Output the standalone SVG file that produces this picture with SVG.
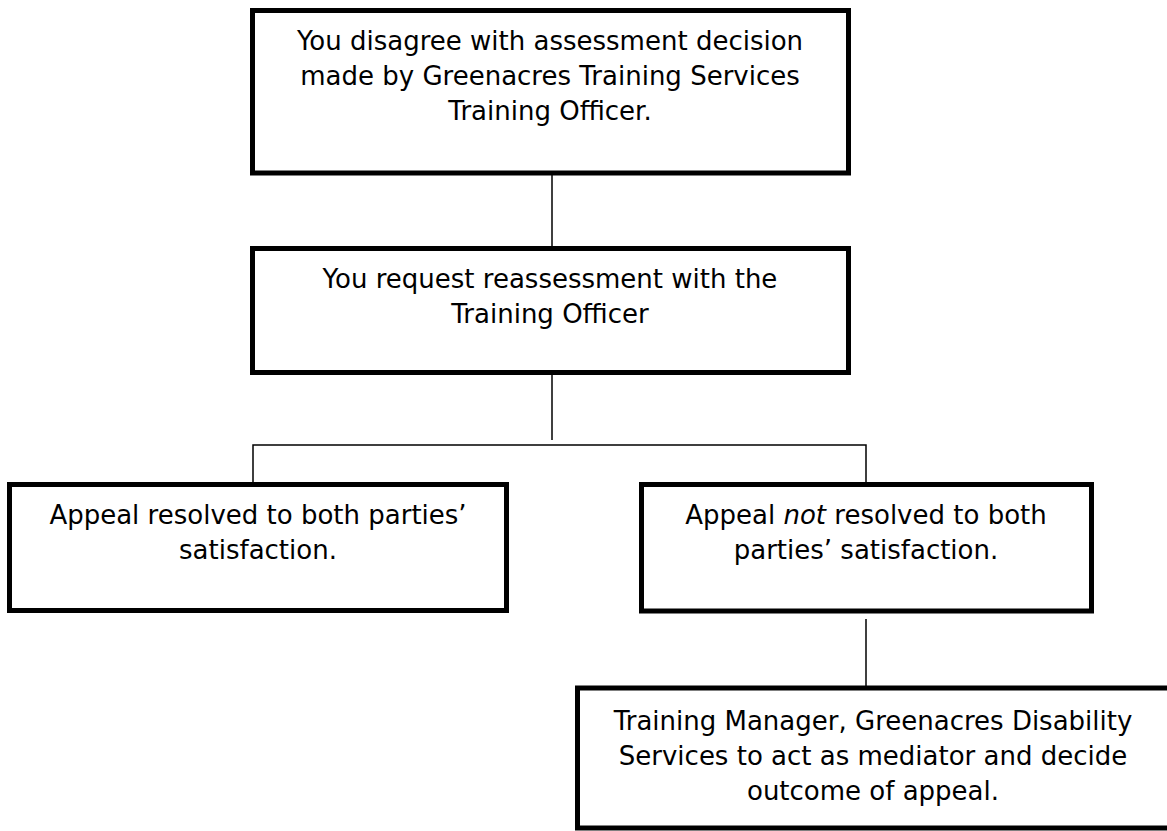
<svg xmlns="http://www.w3.org/2000/svg" width="1167" height="831" viewBox="0 0 1167 831">
<style>
.box{fill:#fff;stroke:#000;stroke-width:5}
.lbl{font-family:"DejaVu Sans",Verdana,sans-serif;font-size:26px;fill:#000;text-anchor:middle}
.conn{fill:none;stroke:#000;stroke-width:1.5}
</style>
<rect width="1167" height="831" fill="#fff"/>
<g id="connectors">
<line class="conn" x1="552" y1="173" x2="552" y2="248"/>
<line class="conn" x1="552" y1="372" x2="552" y2="440"/>
<polyline class="conn" points="253,484 253,445 866,445 866,484"/>
<line class="conn" x1="866" y1="619" x2="866" y2="688"/>
</g>
<g id="n1">
<rect class="box" x="252.5" y="10.5" width="596" height="162.5"/>
<text class="lbl" x="550" y="50">You disagree with assessment decision</text>
<text class="lbl" x="550" y="85">made by Greenacres Training Services</text>
<text class="lbl" x="550" y="120">Training Officer.</text>
</g>
<g id="n2">
<rect class="box" x="252.5" y="248.5" width="596" height="124"/>
<text class="lbl" x="550" y="288">You request reassessment with the</text>
<text class="lbl" x="550" y="323">Training Officer</text>
</g>
<g id="n3">
<rect class="box" x="9.5" y="484.5" width="497" height="126"/>
<text class="lbl" x="258" y="524">Appeal resolved to both parties’</text>
<text class="lbl" x="258" y="559">satisfaction.</text>
</g>
<g id="n4">
<rect class="box" x="641.5" y="484.5" width="450" height="126.5"/>
<text class="lbl" x="866" y="524">Appeal <tspan font-style="italic">not</tspan> resolved to both</text>
<text class="lbl" x="866" y="559">parties’ satisfaction.</text>
</g>
<g id="n5">
<rect class="box" x="577.5" y="688" width="592" height="140"/>
<text class="lbl" x="873" y="730">Training Manager, Greenacres Disability</text>
<text class="lbl" x="873" y="765">Services to act as mediator and decide</text>
<text class="lbl" x="873" y="800">outcome of appeal.</text>
</g>
</svg>
